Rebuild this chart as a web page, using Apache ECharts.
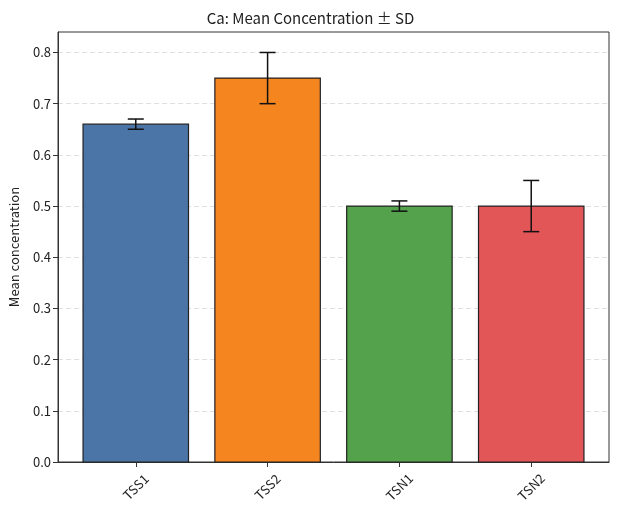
<!DOCTYPE html>
<html><head><meta charset="utf-8">
<script src="https://cdn.jsdelivr.net/npm/echarts@6/dist/echarts.min.js"></script>
<style>html,body{margin:0;padding:0;background:#fff}#c{width:621px;height:520px}</style>
</head><body><div id="c"></div>
<script>
const categories = ['TSS1', 'TSS2', 'TSN1', 'TSN2'];
const means = [0.66, 0.75, 0.50, 0.50];
const sds = [0.01, 0.05, 0.01, 0.05];
const colors = ['#4a75a6', '#f5851f', '#55a24c', '#e35658'];
const yTicks = [0, 0.1, 0.2, 0.3, 0.4, 0.5, 0.6, 0.7, 0.8];

const FONT = '"Noto Sans CJK SC", "Noto Sans", sans-serif';
const chart = echarts.init(document.getElementById('c'));
const barData = categories.map((c, i) => [i, means[i], sds[i]]);

chart.setOption({
  animation: false,
  title: { text: 'Ca: Mean Concentration ± SD', left: 'center', top: 6,
    textStyle: { fontFamily: FONT, fontSize: 15, fontWeight: 'normal', color: '#222' } },
  grid: { left: 58, right: 12, top: 32, bottom: 58, show: true, borderColor: '#333', borderWidth: 1, containLabel: false },
  xAxis: {
    type: 'value', min: -0.59, max: 3.59,
    splitLine: { show: false },
    axisLine: { show: true, onZero: false, lineStyle: { color: '#333' } },
    axisTick: { show: true, customValues: [0, 1, 2, 3], length: 5, lineStyle: { color: '#333' } },
    axisLabel: { customValues: [0, 1, 2, 3], rotate: 45, margin: 25, align: 'center', verticalAlign: 'middle',
      formatter: v => categories[Math.round(v)], fontFamily: FONT, fontSize: 13, color: '#222' }
  },
  yAxis: {
    type: 'value', min: 0, max: 0.84,
    name: 'Mean concentration', nameLocation: 'middle', nameGap: 37,
    nameTextStyle: { fontFamily: FONT, fontSize: 13, color: '#222' },
    axisLine: { show: true, onZero: false, lineStyle: { color: '#333' } },
    axisTick: { show: true, customValues: yTicks, length: 5, lineStyle: { color: '#333' } },
    axisLabel: { customValues: yTicks, formatter: v => v.toFixed(1), fontFamily: FONT, fontSize: 13, color: '#222', margin: 7 },
    splitLine: { show: true, customValues: yTicks, lineStyle: { color: '#d8d8d8', type: [5, 3], width: 0.8 } }
  },
  series: [{
    type: 'custom',
    data: barData,
    renderItem: function (params, api) {
      const x = api.value(0), m = api.value(1), s = api.value(2);
      const w = api.size([0.8, 0])[0];
      const top = api.coord([x, m]);
      const base = api.coord([x, 0]);
      const hi = api.coord([x, m + s]);
      const lo = api.coord([x, m - s]);
      const cap = 8;
      return {
        type: 'group',
        children: [
          { type: 'rect', shape: { x: top[0] - w / 2, y: top[1], width: w, height: base[1] - top[1] },
            style: { fill: colors[params.dataIndex], stroke: '#222', lineWidth: 1.2 } },
          { type: 'line', shape: { x1: hi[0], y1: hi[1], x2: lo[0], y2: lo[1] }, style: { stroke: '#111', lineWidth: 1.5 } },
          { type: 'line', shape: { x1: hi[0] - cap, y1: hi[1], x2: hi[0] + cap, y2: hi[1] }, style: { stroke: '#111', lineWidth: 1.5 } },
          { type: 'line', shape: { x1: lo[0] - cap, y1: lo[1], x2: lo[0] + cap, y2: lo[1] }, style: { stroke: '#111', lineWidth: 1.5 } }
        ]
      };
    }
  }]
});
</script></body></html>
